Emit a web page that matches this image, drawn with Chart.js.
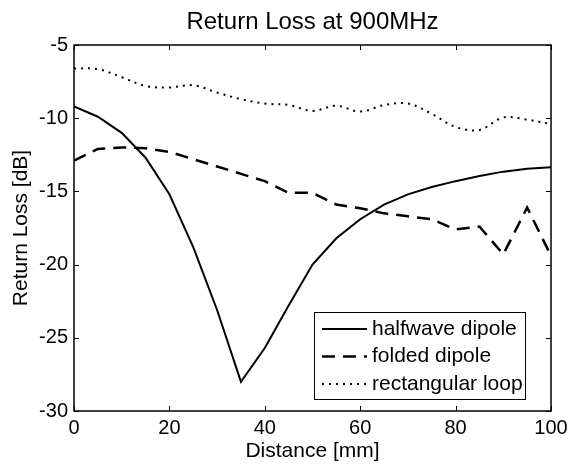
<!DOCTYPE html>
<html>

<head>
  <script src="https://cdn.jsdelivr.net/npm/chart.js@4.4.1/dist/chart.umd.min.js"></script>
  <style>
    html, body { margin: 0; padding: 0; background: #fff; }
  </style>
</head>

<body>
  <div style="position: relative; width:570px; height:464px">
    <canvas id="myChart"></canvas>
  </div>
  <script type="text/javascript">
    // data (distance in mm, return loss in dB)
    var distance = [0, 5, 10, 15, 20, 25, 30, 35, 40, 45, 50, 55, 60, 65, 70, 75, 80, 85, 90, 95, 100];
    var halfwave = [-9.2, -9.9, -11.0, -12.7, -15.2, -18.8, -23.1, -28.0, -25.7, -22.8, -20.0, -18.2, -16.9, -15.9, -15.2, -14.7, -14.3, -13.95, -13.65, -13.45, -13.35];
    var folded = [-12.9, -12.1, -12.0, -12.05, -12.3, -12.8, -13.3, -13.8, -14.3, -15.1, -15.1, -15.9, -16.15, -16.5, -16.7, -16.9, -17.6, -17.4, -19.3, -16.1, -19.4];
    var loop = [-6.6, -6.65, -7.2, -7.8, -7.9, -7.75, -8.25, -8.7, -9.0, -9.1, -9.5, -9.15, -9.55, -9.1, -9.0, -9.7, -10.6, -10.8, -9.95, -10.1, -10.4];
    var seriesNames = ['halfwave dipole', 'folded dipole', 'rectangular loop'];
    var xTicks = [0, 20, 40, 60, 80, 100];
    var yTicks = [-5, -10, -15, -20, -25, -30];

    var FONT = '"Liberation Sans", Arial, Helvetica, sans-serif';

    function pts(ys) {
      return distance.map(function(d, i) { return { x: d, y: ys[i] }; });
    }

    // box, inward tick marks and the legend inside the axes
    var matlabAxes = {
      id: 'matlabAxes',
      afterLayout: function(chart) {
        // centre the title over the plot box, like MATLAB does
        var tb = chart.titleBlock;
        if (tb) {
          tb.left = chart.chartArea.left;
          tb.right = chart.chartArea.right;
          tb.width = tb.right - tb.left;
        }
      },
      afterDatasetsDraw: function(chart) {
        var ctx = chart.ctx;
        var a = chart.chartArea;
        var xs = chart.scales.x, ys = chart.scales.y;
        var tl = 5;
        ctx.save();
        ctx.strokeStyle = '#000';
        ctx.lineWidth = 1;
        ctx.beginPath();
        xTicks.forEach(function(v) {
          var px = Math.round(xs.getPixelForValue(v)) + 0.5;
          ctx.moveTo(px, a.bottom); ctx.lineTo(px, a.bottom - tl);
          ctx.moveTo(px, a.top); ctx.lineTo(px, a.top + tl);
        });
        yTicks.forEach(function(v) {
          var py = Math.round(ys.getPixelForValue(v)) + 0.5;
          ctx.moveTo(a.left, py); ctx.lineTo(a.left + tl, py);
          ctx.moveTo(a.right, py); ctx.lineTo(a.right - tl, py);
        });
        ctx.stroke();
        ctx.lineWidth = 1.5;
        ctx.strokeRect(a.left, a.top, a.right - a.left, a.bottom - a.top);

        // legend
        var lw = 211, lh = 87;
        var lx = a.right - 26 - lw, ly = a.bottom - 12 - lh;
        ctx.fillStyle = '#fff';
        ctx.fillRect(lx, ly, lw, lh);
        ctx.lineWidth = 1;
        ctx.strokeRect(lx + 0.5, ly + 0.5, lw, lh);
        ctx.font = '21px ' + FONT;
        ctx.textBaseline = 'middle';
        ctx.textAlign = 'left';
        chart.data.datasets.forEach(function(ds, i) {
          var ry = ly + 17 + i * 27.5;
          ctx.strokeStyle = '#000';
          ctx.lineWidth = ds.borderWidth;
          ctx.setLineDash(ds.borderDash || []);
          ctx.beginPath();
          ctx.moveTo(lx + 8, ry);
          ctx.lineTo(lx + 53, ry);
          ctx.stroke();
          ctx.setLineDash([]);
          ctx.fillStyle = '#000';
          ctx.fillText(ds.label, lx + 58, ry);
        });
        ctx.restore();
      }
    };

    var ctx = document.getElementById('myChart').getContext('2d');
    var chart = new Chart(ctx, {
      type: 'line',
      data: {
        datasets: [{
          label: seriesNames[0],
          data: pts(halfwave),
          borderColor: '#000',
          borderWidth: 2,
          pointRadius: 0,
          tension: 0,
          fill: false
        }, {
          label: seriesNames[1],
          data: pts(folded),
          borderColor: '#000',
          borderWidth: 2.5,
          borderDash: [13, 8],
          pointRadius: 0,
          tension: 0,
          fill: false
        }, {
          label: seriesNames[2],
          data: pts(loop),
          borderColor: '#000',
          borderWidth: 2,
          borderDash: [2, 5],
          pointRadius: 0,
          tension: 0.35,
          fill: false
        }]
      },
      options: {
        animation: false,
        responsive: true,
        maintainAspectRatio: false,
        layout: { padding: { left: 0, right: 19, top: 0, bottom: 0 } },
        plugins: {
          legend: { display: false },
          tooltip: { enabled: false },
          title: {
            display: true,
            text: 'Return Loss at 900MHz',
            color: '#000',
            font: { family: FONT, size: 24, weight: 'normal' },
            padding: { top: 8, bottom: 8.2 }
          }
        },
        scales: {
          x: {
            type: 'linear',
            min: 0,
            max: 100,
            grid: { display: false, drawTicks: false },
            border: { display: false },
            afterBuildTicks: function(s) { s.ticks = xTicks.map(function(v) { return { value: v }; }); },
            afterFit: function(s) {
              s.height = 53;
              s.paddingLeft = 0;
              s.paddingRight = 0;
            },
            ticks: {
              color: '#000',
              padding: 5,
              maxRotation: 0,
              font: { family: FONT, size: 20 }
            },
            title: {
              display: true,
              text: 'Distance [mm]',
              color: '#000',
              font: { family: FONT, size: 21 },
              padding: { top: 0, bottom: 0 }
            }
          },
          y: {
            min: -30,
            max: -5,
            grid: { display: false, drawTicks: false },
            border: { display: false },
            afterBuildTicks: function(s) { s.ticks = yTicks.map(function(v) { return { value: v }; }); },
            afterFit: function(s) { s.width = 74; },
            ticks: {
              color: '#000',
              padding: 6,
              font: { family: FONT, size: 20 }
            },
            title: {
              display: true,
              text: 'Return Loss [dB]',
              color: '#000',
              font: { family: FONT, size: 21 },
              padding: { top: 9, bottom: 0 }
            }
          }
        }
      },
      plugins: [matlabAxes]
    });
  </script>
</body>

</html>
